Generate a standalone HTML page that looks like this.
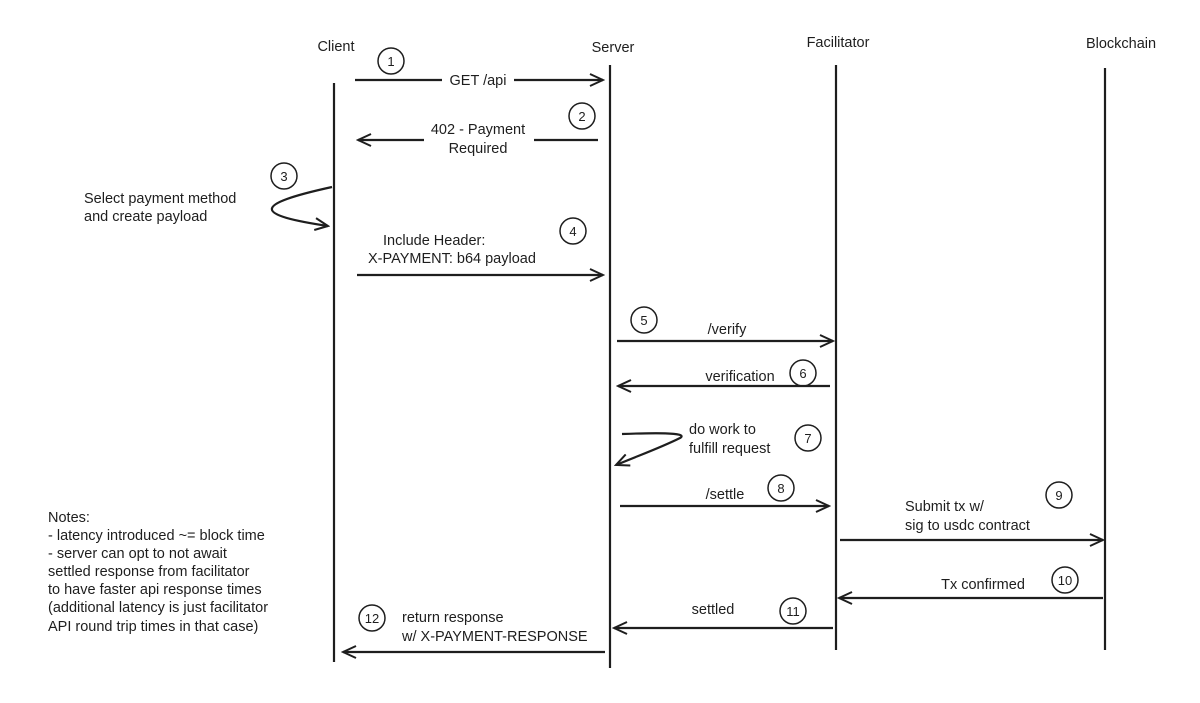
<!DOCTYPE html>
<html><head><meta charset="utf-8"><style>
html,body{margin:0;padding:0;background:#fff;}
svg{display:block}
text{font-family:"Liberation Sans",sans-serif;font-size:14.5px;fill:#1e1e1e}
.n{font-size:13px;text-anchor:middle}
</style></head><body>
<svg width="1200" height="703" viewBox="0 0 1200 703" xmlns="http://www.w3.org/2000/svg">
<defs><marker id="a" markerWidth="16" markerHeight="14" refX="14" refY="7" orient="auto" markerUnits="userSpaceOnUse"><path d="M1,1 L14,7 L1,13" fill="none" stroke="#1e1e1e" stroke-width="2"/></marker></defs>
<g stroke="#1e1e1e" stroke-width="2.2" fill="none">
<line x1="334" y1="83" x2="334" y2="662"/>
<line x1="610" y1="65" x2="610" y2="668"/>
<line x1="836" y1="65" x2="836" y2="650"/>
<line x1="1105" y1="68" x2="1105" y2="650"/>
<line x1="355" y1="80" x2="442" y2="80"/>
<line x1="514" y1="80" x2="603" y2="80" marker-end="url(#a)"/>
<line x1="598" y1="140" x2="534" y2="140"/>
<line x1="424" y1="140" x2="358" y2="140" marker-end="url(#a)"/>
<path d="M332,187 C250,205 255,215 328,226" marker-end="url(#a)"/>
<line x1="357" y1="275" x2="603" y2="275" marker-end="url(#a)"/>
<line x1="617" y1="341" x2="833" y2="341" marker-end="url(#a)"/>
<line x1="830" y1="386" x2="618" y2="386" marker-end="url(#a)"/>
<path d="M622,434 C650,433 690,432 680,438 C660,448 640,455 616,465" marker-end="url(#a)"/>
<line x1="620" y1="506" x2="829" y2="506" marker-end="url(#a)"/>
<line x1="840" y1="540" x2="1103" y2="540" marker-end="url(#a)"/>
<line x1="1103" y1="598" x2="839" y2="598" marker-end="url(#a)"/>
<line x1="833" y1="628" x2="614" y2="628" marker-end="url(#a)"/>
<line x1="605" y1="652" x2="343" y2="652" marker-end="url(#a)"/>
<g stroke-width="1.5">
<circle cx="391" cy="61" r="13"/><circle cx="582" cy="116" r="13"/><circle cx="284" cy="176" r="13"/>
<circle cx="573" cy="231" r="13"/><circle cx="644" cy="320" r="13"/><circle cx="803" cy="373" r="13"/>
<circle cx="808" cy="438" r="13"/><circle cx="781" cy="488" r="13"/><circle cx="1059" cy="495" r="13"/>
<circle cx="1065" cy="580" r="13"/><circle cx="793" cy="611" r="13"/><circle cx="372" cy="618" r="13"/>
</g></g>
<text x="336" y="51" text-anchor="middle">Client</text>
<text x="613" y="52" text-anchor="middle">Server</text>
<text x="838" y="47" text-anchor="middle">Facilitator</text>
<text x="1121" y="48" text-anchor="middle">Blockchain</text>
<text class="n" x="391" y="66">1</text><text class="n" x="582" y="121">2</text><text class="n" x="284" y="181">3</text>
<text class="n" x="573" y="236">4</text><text class="n" x="644" y="325">5</text><text class="n" x="803" y="378">6</text>
<text class="n" x="808" y="443">7</text><text class="n" x="781" y="493">8</text><text class="n" x="1059" y="500">9</text>
<text class="n" x="1065" y="585">10</text><text class="n" x="793" y="616">11</text><text class="n" x="372" y="623">12</text>
<text x="478" y="85" text-anchor="middle">GET /api</text>
<text x="478" y="134" text-anchor="middle">402 - Payment</text>
<text x="478" y="153" text-anchor="middle">Required</text>
<text x="84" y="203">Select payment method</text>
<text x="84" y="221">and create payload</text>
<text x="383" y="245">Include Header:</text>
<text x="368" y="263">X-PAYMENT: b64 payload</text>
<text x="727" y="334" text-anchor="middle">/verify</text>
<text x="740" y="381" text-anchor="middle">verification</text>
<text x="689" y="434">do work to</text>
<text x="689" y="453">fulfill request</text>
<text x="725" y="499" text-anchor="middle">/settle</text>
<text x="905" y="511">Submit tx w/</text>
<text x="905" y="530">sig to usdc contract</text>
<text x="983" y="589" text-anchor="middle">Tx confirmed</text>
<text x="713" y="614" text-anchor="middle">settled</text>
<text x="402" y="622">return response</text>
<text x="402" y="641">w/ X-PAYMENT-RESPONSE</text>
<text x="48" y="522">Notes:</text>
<text x="48" y="540">- latency introduced ~= block time</text>
<text x="48" y="558">- server can opt to not await</text>
<text x="48" y="576">settled response from facilitator</text>
<text x="48" y="594">to have faster api response times</text>
<text x="48" y="612">(additional latency is just facilitator</text>
<text x="48" y="631">API round trip times in that case)</text>
</svg>
</body></html>
